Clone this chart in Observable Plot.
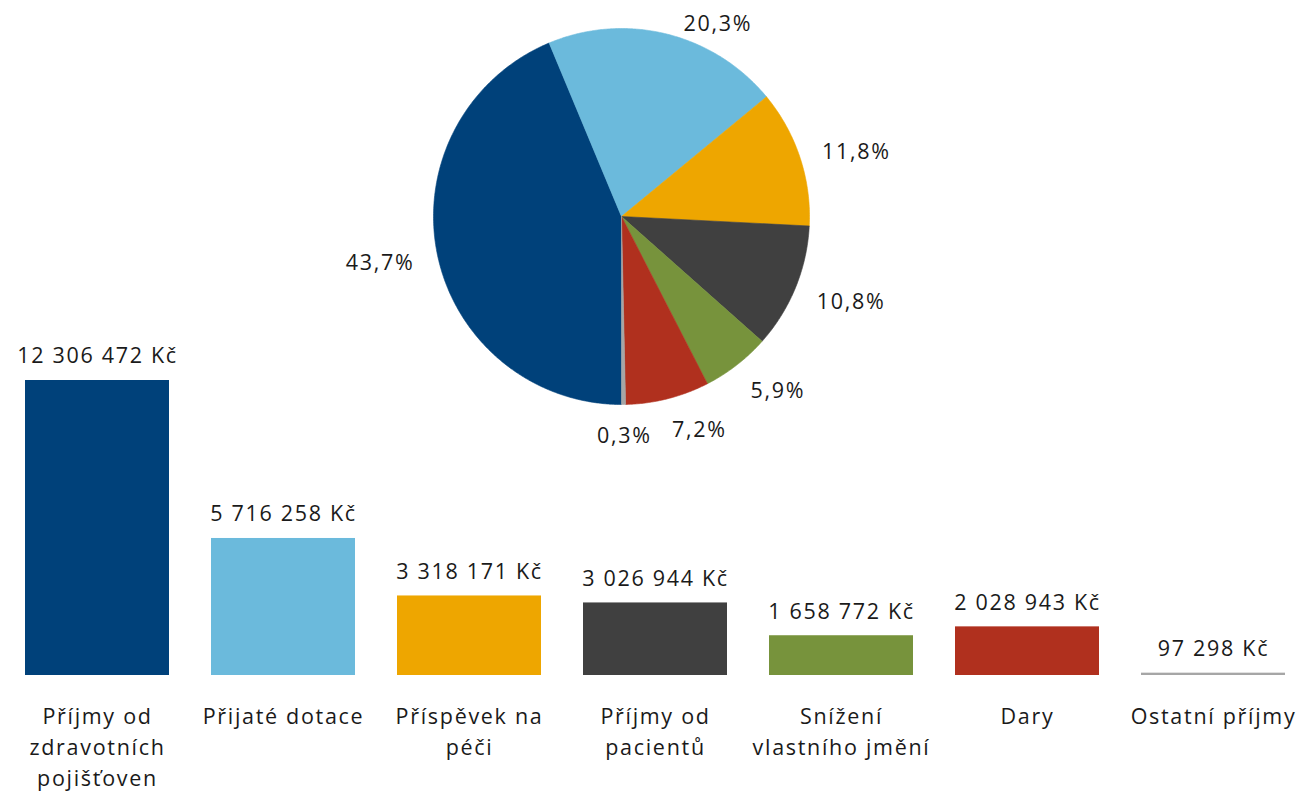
<!DOCTYPE html>
<html>
<head>
<meta charset="utf-8">
<script src="https://cdn.jsdelivr.net/npm/d3@7"></script>
<script src="https://cdn.jsdelivr.net/npm/@observablehq/plot@0.6"></script>
<style>
  html, body { margin: 0; padding: 0; background: #fff; }
  #wrap { position: relative; width: 1301px; height: 792px; overflow: hidden; }
  #wrap > svg { position: absolute; left: 0; top: 0; }
</style>
</head>
<body>
<div id="wrap"></div>
<script>
// ---- data ----
const categories = [
  "Příjmy od zdravotních pojišťoven",
  "Přijaté dotace",
  "Příspěvek na péči",
  "Příjmy od pacientů",
  "Snížení vlastního jmění",
  "Dary",
  "Ostatní příjmy"
];
const tickLabels = [
  "Příjmy od\nzdravotních\npojišťoven",
  "Přijaté dotace",
  "Příspěvek na\npéči",
  "Příjmy od\npacientů",
  "Snížení\nvlastního jmění",
  "Dary",
  "Ostatní příjmy"
];
const values = [12306472, 5716258, 3318171, 3026944, 1658772, 2028943, 97298];
const colors = ["#00417A", "#6BBADC", "#EEA600", "#404040", "#77933C", "#B0301E", "#A6A6A6"];

const FONT = "'Open Sans', 'Noto Sans', sans-serif";
const FS = 21.5;
const LS = 1.7;
const FW = 400;
const TEXT = "#1a1a1a";

const fmtKc = v => d3.format(",")(v).replace(/,/g, " ") + " Kč";
const total = d3.sum(values);
const pct = v => (v / total * 100).toFixed(1).replace(".", ",") + "%";

const rows = categories.map((c, i) => ({cat: c, value: values[i], label: tickLabels[i]}));
const colorScale = {domain: categories, range: colors};
const textStyle = {fontFamily: FONT, fontSize: FS + "px", fontWeight: FW, letterSpacing: LS + "px", background: "transparent", color: TEXT, overflow: "visible"};

// ---- bar chart ----
const bars = Plot.plot({
  width: 1301,
  height: 792,
  margin: 0,
  style: textStyle,
  x: {domain: categories, range: [4, 1306], paddingInner: 0.226, paddingOuter: 0.113, axis: null},
  y: {domain: [0, 12306472], range: [675, 380], axis: null},
  color: colorScale,
  marks: [
    Plot.barY(rows, {x: "cat", y: "value", fill: "cat"}),
    Plot.text(rows, {x: "cat", y: "value", text: d => fmtKc(d.value), dy: -24, fontSize: FS, fill: TEXT}),
    Plot.text(rows, {x: "cat", y: 0, text: "label", lineAnchor: "top", dy: 26, lineHeight: 1.45, fontSize: FS, fill: TEXT})
  ]
});

// ---- pie chart ----
const CX = 621, CY = 216, R = 188;
const startDeg = 180;
let acc = startDeg;
const slicePts = [];
const slices = rows.map(d => {
  const a0 = acc, a1 = acc + d.value / total * 360;
  acc = a1;
  return {...d, a0, a1, mid: (a0 + a1) / 2};
});
for (const s of slices) {
  slicePts.push({cat: s.cat, x: 0, y: 0});
  const n = Math.max(2, Math.ceil((s.a1 - s.a0) / 0.5));
  for (let k = 0; k <= n; k++) {
    const a = (s.a0 + (s.a1 - s.a0) * k / n) * Math.PI / 180;
    slicePts.push({cat: s.cat, x: Math.sin(a), y: Math.cos(a)});
  }
  slicePts.push({cat: s.cat, x: 0, y: 0});
}

// label layout (pixel offsets from centre, converted to unit coords)
const ctx = document.createElement("canvas").getContext("2d");
ctx.font = `${FW} ${FS}px ${FONT}`;
const hh = 4, gapR = 24, boxH = 22, shiftY = 4;
const labels = slices.map(s => {
  const m = s.mid * Math.PI / 180;
  const sn = Math.sin(m), cs = Math.cos(m);
  const text = pct(s.value);
  const hw = (ctx.measureText(text).width + LS * (text.length - 1)) / 2;
  let px = (R + gapR) * sn + hw * Math.max(-1, Math.min(1, sn / 0.5));
  let py = -(R + gapR) * cs - hh * cs + shiftY;
  const minY = -CY + 24;
  if (py < minY) {
    py = minY;
    const yb = Math.abs(py) - boxH / 2;
    const half = yb < R ? Math.sqrt(R * R - yb * yb) : 0;
    if (sn >= 0) px = Math.max(px, half + 12 + hw);
    else px = Math.min(px, -half - 12 - hw);
  }
  return {text, px, py, hw};
});
// simple overlap resolution: push the label on the right further right
for (let i = 0; i < labels.length; i++) {
  for (let j = 0; j < labels.length; j++) {
    if (i === j) continue;
    const a = labels[i], b = labels[j];
    if (a.px <= b.px) continue;
    if (Math.abs(a.py - b.py) > boxH) continue;
    const gap = (a.px - a.hw) - (b.px + b.hw);
    if (gap < 22) a.px += 22 - gap;
  }
}
labels.forEach(l => { l.x = l.px / R; l.y = -l.py / R; });

const pie = Plot.plot({
  width: 1301,
  height: 470,
  margin: 0,
  style: textStyle,
  x: {domain: [-1, 1], range: [CX - R, CX + R], axis: null},
  y: {domain: [-1, 1], range: [CY + R, CY - R], axis: null},
  color: colorScale,
  marks: [
    Plot.line(slicePts, {x: "x", y: "y", z: "cat", fill: "cat", stroke: "cat", strokeWidth: 0.6, curve: "linear"}),
    Plot.text(labels, {x: "x", y: "y", text: "text", fontSize: FS, fill: TEXT})
  ]
});

const wrap = document.getElementById("wrap");
wrap.appendChild(bars);
wrap.appendChild(pie);
</script>
</body>
</html>
